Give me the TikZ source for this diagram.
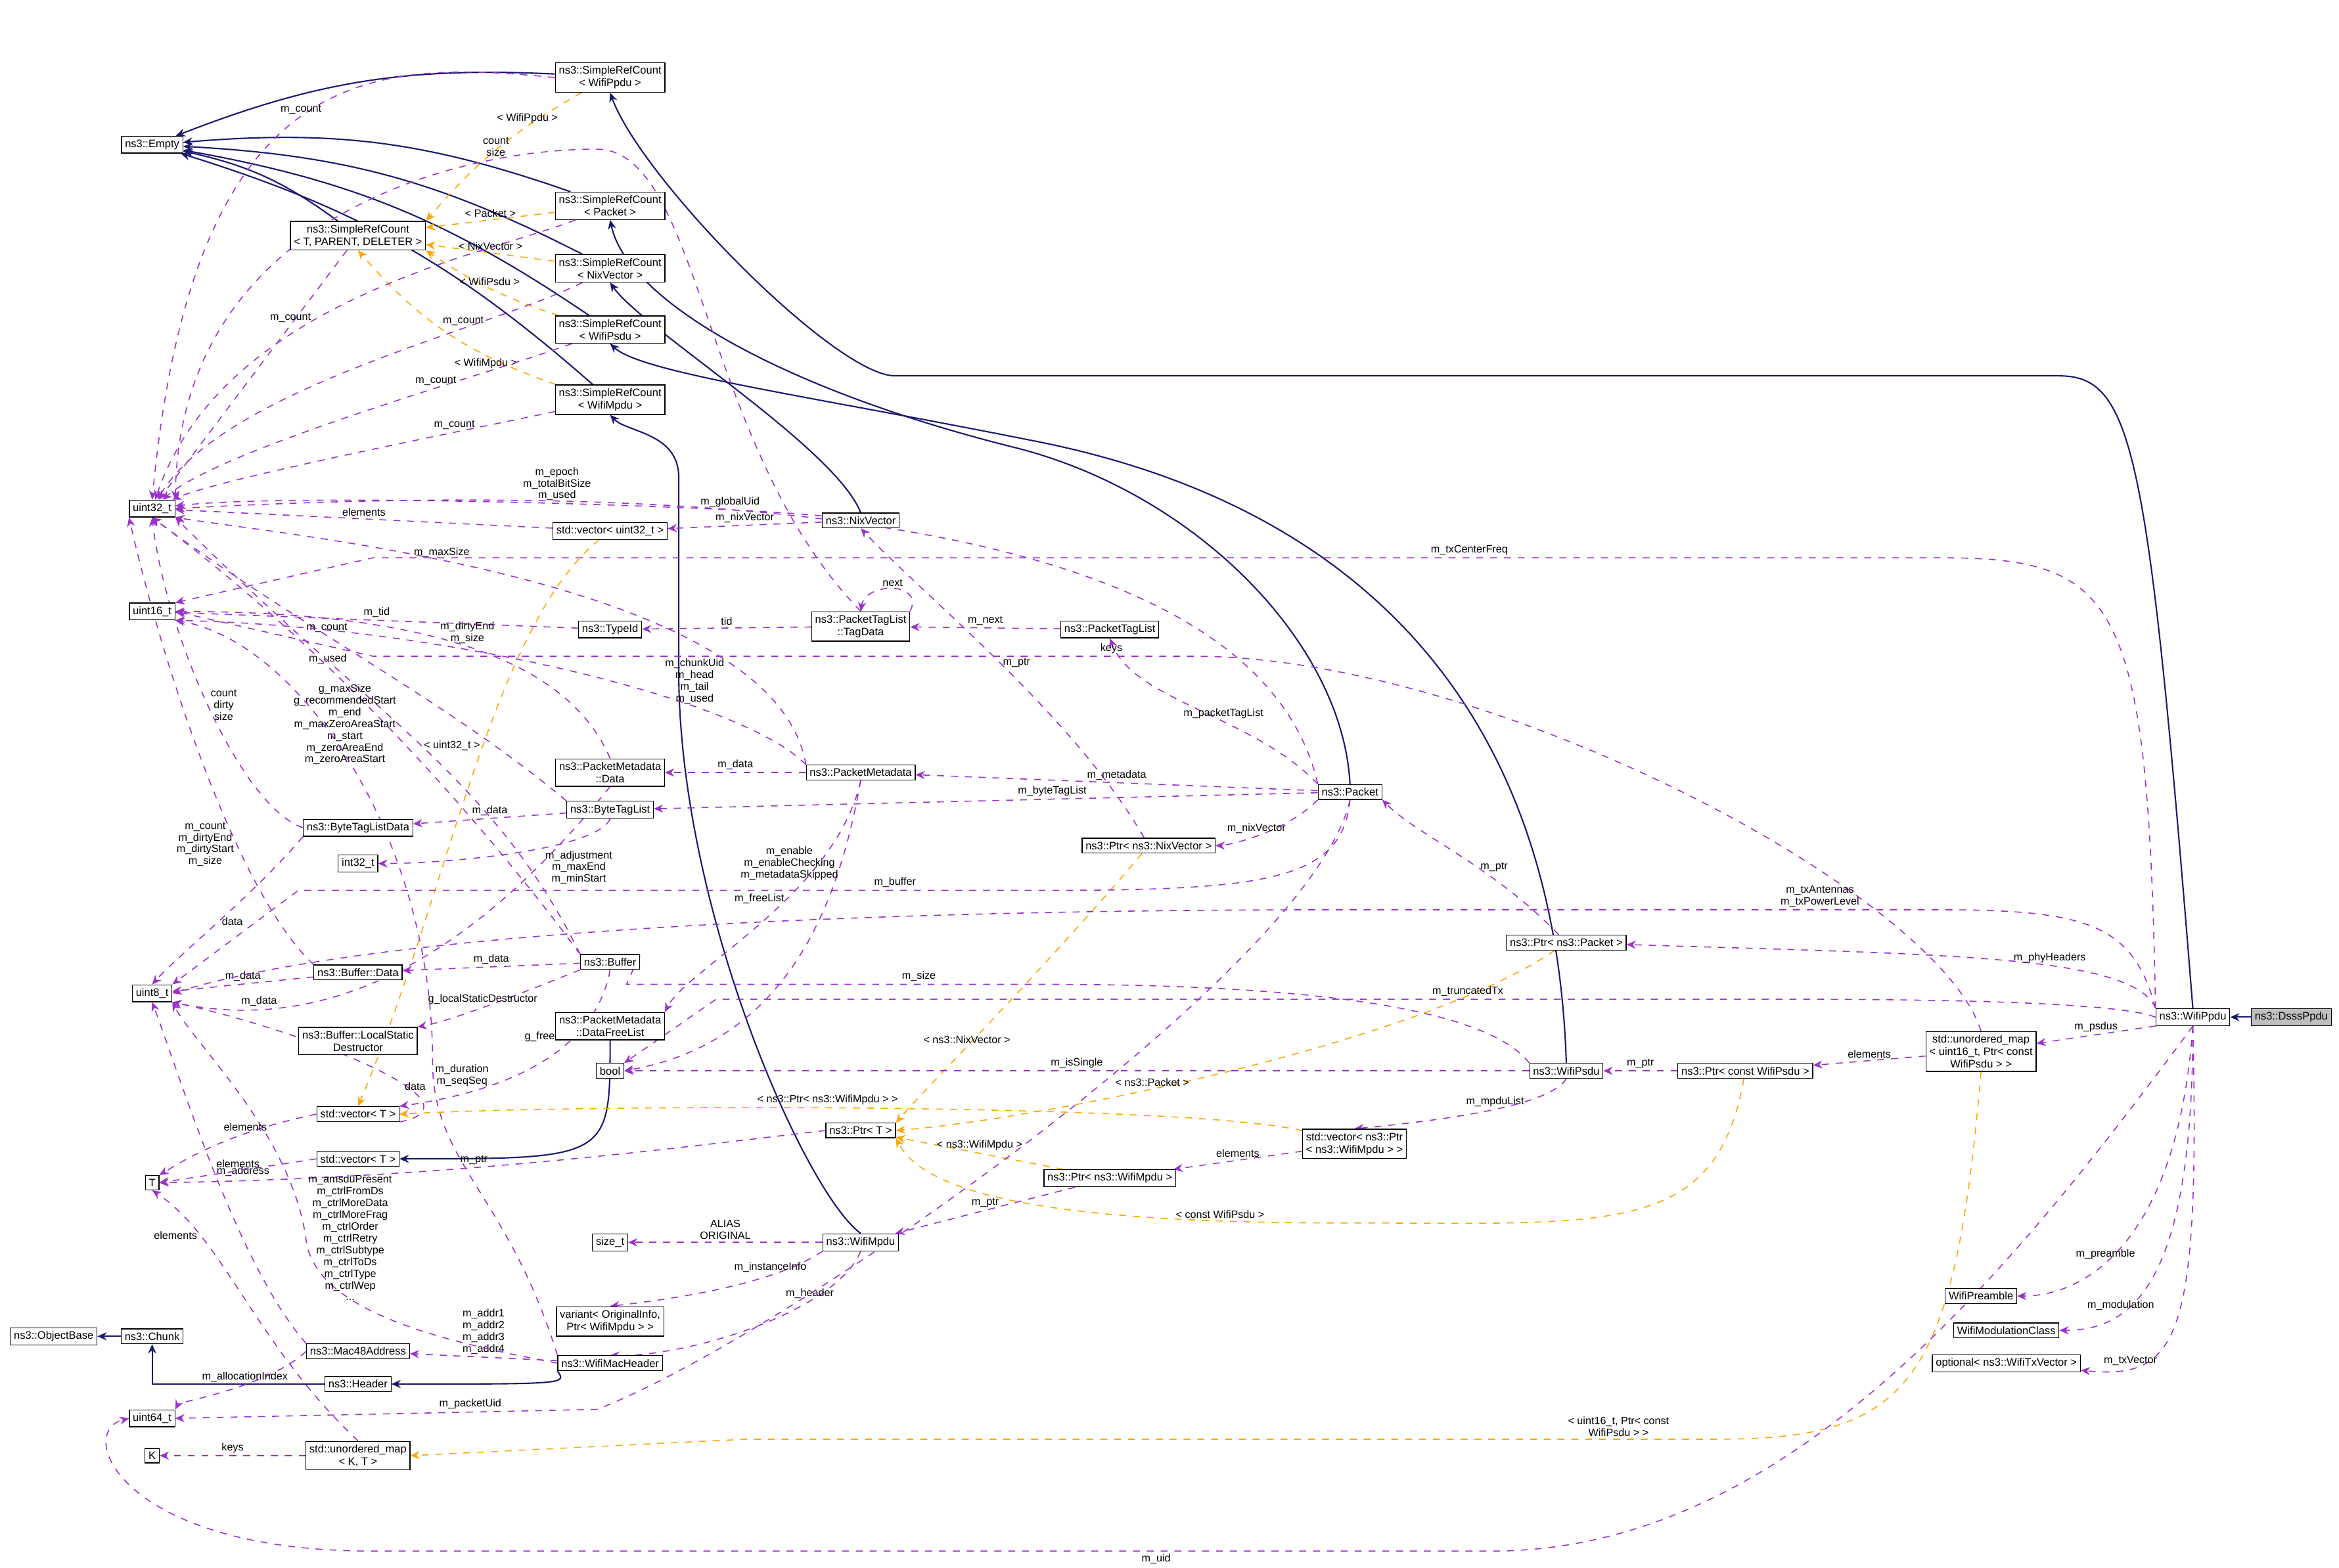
\documentclass[tikz,border=0pt]{standalone}
\usepackage{fontspec}
\setmainfont{Liberation Sans}
\usetikzlibrary{arrows.meta,backgrounds}
\definecolor{mem}{HTML}{9A32CD}
\definecolor{inh}{HTML}{191970}
\definecolor{tpl}{HTML}{FFA500}
\tikzset{
  cls/.style={draw, fill=white, line width=0.35pt, inner sep=1.5pt, align=center, font=\fontsize{4.7}{5.4}\selectfont},
  memb/.style={draw=mem, dashed, line width=0.45pt, -{Stealth[length=4pt,width=3.5pt]}},
  inhr/.style={draw=inh, line width=0.6pt, -{Stealth[length=4pt,width=3.5pt]}},
  tmpl/.style={draw=tpl, dashed, line width=0.45pt, -{Stealth[length=4pt,width=3.5pt]}},
  lbl/.style={font=\fontsize{4.6}{5.1}\selectfont, align=center, inner sep=1pt}
}
\begin{document}
\begin{tikzpicture}[x=0.0227cm,y=-0.0227cm]
\useasboundingbox (0,0) rectangle (1568,1051);
% classes, right side
\node[cls, fill=black!25] (dsss) at (1536,682) {ns3::DsssPpdu};
\node[cls] (ppdu) at (1470,682) {ns3::WifiPpdu};
\node[cls] (umap) at (1328,705) {std::unordered\_map\\< uint16\_t, Ptr< const\\WifiPsdu > >};
\node[cls] (pcpsdu) at (1170,718) {ns3::Ptr< const WifiPsdu >};
\node[cls] (psdu) at (1050,718) {ns3::WifiPsdu};
\node[cls] (ppkt) at (1050,632) {ns3::Ptr< ns3::Packet >};
\node[cls] (pre) at (1328,869) {WifiPreamble};
\node[cls] (modc) at (1345,892) {WifiModulationClass};
\node[cls] (txv) at (1345,914) {optional< ns3::WifiTxVector >};
% ref counting
\node[cls] (srcppdu) at (409,52) {ns3::SimpleRefCount\\< WifiPpdu >};
\node[cls] (empty) at (102,97) {ns3::Empty};
\node[cls] (srcpkt) at (409,138) {ns3::SimpleRefCount\\< Packet >};
\node[cls] (srct) at (240,158) {ns3::SimpleRefCount\\< T, PARENT, DELETER >};
\node[cls] (srcnix) at (409,180) {ns3::SimpleRefCount\\< NixVector >};
\node[cls] (srcpsdu) at (409,221) {ns3::SimpleRefCount\\< WifiPsdu >};
\node[cls] (srcmpdu) at (409,268) {ns3::SimpleRefCount\\< WifiMpdu >};
% basic types
\node[cls] (u32) at (102,341) {uint32\_t};
\node[cls] (u16) at (102,410) {uint16\_t};
\node[cls] (i32) at (240,579) {int32\_t};
\node[cls] (u8) at (102,666) {uint8\_t};
\node[cls] (bool) at (409,718) {bool};
\node[cls] (tt) at (102,793) {T};
\node[cls] (sizet) at (409,833) {size\_t};
\node[cls] (u64) at (102,951) {uint64\_t};
\node[cls] (kk) at (102,976) {K};
% packet side
\node[cls] (vu32) at (409,356) {std::vector< uint32\_t >};
\node[cls] (nix) at (577,349) {ns3::NixVector};
\node[cls] (tid) at (409,422) {ns3::TypeId};
\node[cls] (tagdata) at (577,420) {ns3::PacketTagList\\::TagData};
\node[cls] (taglist) at (744,422) {ns3::PacketTagList};
\node[cls] (mdata) at (409,518) {ns3::PacketMetadata\\::Data};
\node[cls] (meta) at (577,518) {ns3::PacketMetadata};
\node[cls] (pkt) at (905,531) {ns3::Packet};
\node[cls] (btld) at (240,555) {ns3::ByteTagListData};
\node[cls] (btl) at (409,543) {ns3::ByteTagList};
\node[cls] (pnix) at (770,567) {ns3::Ptr< ns3::NixVector >};
\node[cls] (bdata) at (240,652) {ns3::Buffer::Data};
\node[cls] (buf) at (409,645) {ns3::Buffer};
\node[cls] (lsd) at (240,698) {ns3::Buffer::LocalStatic\\Destructor};
\node[cls] (dfl) at (409,688) {ns3::PacketMetadata\\::DataFreeList};
\node[cls] (vt1) at (240,747) {std::vector< T >};
\node[cls] (vt2) at (240,777) {std::vector< T >};
\node[cls] (vpm) at (908,767) {std::vector< ns3::Ptr\\< ns3::WifiMpdu > >};
\node[cls] (pt) at (577,758) {ns3::Ptr< T >};
\node[cls] (pmpdu) at (744,790) {ns3::Ptr< ns3::WifiMpdu >};
\node[cls] (mpdu) at (577,833) {ns3::WifiMpdu};
\node[cls] (var) at (409,886) {variant< OriginalInfo,\\Ptr< WifiMpdu > >};
\node[cls] (objb) at (36,896) {ns3::ObjectBase};
\node[cls] (chunk) at (102,896) {ns3::Chunk};
\node[cls] (mac) at (240,906) {ns3::Mac48Address};
\node[cls] (hdr) at (240,928) {ns3::Header};
\node[cls] (machdr) at (409,914) {ns3::WifiMacHeader};
\node[cls] (umkt) at (240,976) {std::unordered\_map\\< K, T >};

\begin{scope}[on background layer]
% inheritance
\draw[inhr] (dsss) -- (ppdu);
\draw[inhr] (ppdu.north) .. controls (1440,300) and (1430,252) .. (1380,252) -- (600,252) .. controls (560,252) and (430,120) .. (srcppdu.south);
\foreach \c in {srcppdu,srcpkt,srct,srcnix,srcpsdu,srcmpdu}
  \draw[inhr] (\c) to[bend right=12] (empty);
\draw[inhr] (pkt.north) .. controls (900,430) and (800,330) .. (680,300) .. controls (520,260) and (420,200) .. (srcpkt.south);
\draw[inhr] (nix.north) .. controls (560,300) and (430,220) .. (srcnix.south);
\draw[inhr] (psdu.north) .. controls (1040,400) and (820,320) .. (690,295) .. controls (540,265) and (430,250) .. (srcpsdu.south);
\draw[inhr] (mpdu.north) .. controls (540,800) and (455,610) .. (455,450) -- (455,320) .. controls (455,290) and (420,290) .. (srcmpdu.south);
\draw[inhr] (chunk) -- (objb);
\draw[inhr] (hdr.west) -| (chunk.south);
\draw[inhr] (machdr.south west) .. controls (380,928) .. (hdr.east);
\draw[inhr] (dfl.south) .. controls (409,777) .. (vt2.east);

% templates
\draw[tmpl] (srcppdu) to[bend right=10] node[lbl, pos=0.3, above] {< WifiPpdu >} (srct.north east);
\draw[tmpl] (srcpkt) -- node[lbl, above] {< Packet >} (srct);
\draw[tmpl] (srcnix) -- node[lbl, above] {< NixVector >} (srct);
\draw[tmpl] (srcpsdu) to[bend left=8] node[lbl, above] {< WifiPsdu >} (srct.south east);
\draw[tmpl] (srcmpdu) to[bend left=15] node[lbl, pos=0.3, below] {< WifiMpdu >} (srct.south);
\draw[tmpl] (vu32) .. controls (330,420) and (300,600) .. node[lbl, pos=0.45, left] {< uint32\_t >} (vt1.north);
\draw[tmpl] (vpm) .. controls (800,740) and (400,740) .. node[lbl, pos=0.55, above] {< ns3::Ptr< ns3::WifiMpdu > >} (vt1.east);
\draw[tmpl] (pnix) .. controls (700,650) and (620,730) .. node[lbl, pos=0.6, above] {< ns3::NixVector >} (pt.north east);
\draw[tmpl] (ppkt) .. controls (950,700) and (700,750) .. node[lbl, pos=0.6, above] {< ns3::Packet >} (pt.east);
\draw[tmpl] (pmpdu) -- node[lbl, above] {< ns3::WifiMpdu >} (pt);
\draw[tmpl] (pcpsdu) .. controls (1150,830) and (1080,820) .. (900,820) .. controls (700,820) and (620,800) .. node[lbl, pos=0.15, above] {< const WifiPsdu >} (pt.south east);
\draw[tmpl] (umap.south) .. controls (1310,930) and (1280,965) .. (1150,965) -- node[lbl, pos=0.1, above] {< uint16\_t, Ptr< const\\WifiPsdu > >} (500,965) -- (umkt.east);

% members
\draw[memb] (srcppdu.west) .. controls (250,40) and (130,40) .. node[lbl, pos=0.5, above] {m\_count} (u32.north);
\draw[memb] (srct) -- node[lbl, pos=0.3, above] {m\_count} (u32);
\draw[memb] (srcpkt) .. controls (330,170) and (150,200) .. (u32);
\draw[memb] (srcnix) .. controls (330,220) and (150,260) .. node[lbl, pos=0.3, above] {m\_count} (u32);
\draw[memb] (srcpsdu) .. controls (330,250) and (150,300) .. node[lbl, pos=0.35, above] {m\_count} (u32);
\draw[memb] (srcmpdu) .. controls (330,285) and (150,320) .. node[lbl, pos=0.3, above] {m\_count} (u32);
\draw[memb] (tagdata.north) .. controls (470,300) and (470,100) .. (400,100) .. controls (300,100) and (120,150) .. node[lbl, pos=0.2, above] {count\\size} (u32.north east);
\draw[memb] (vu32) -- node[lbl, above] {elements} (u32);
\draw[memb] (nix) .. controls (500,340) and (200,330) .. node[lbl, pos=0.45, above] {m\_epoch\\m\_totalBitSize\\m\_used} (u32);
\draw[memb] (nix) -- node[lbl, above] {m\_nixVector} (vu32);
\draw[memb] (pkt.north west) .. controls (850,380) and (600,315) .. node[lbl, pos=0.7, above] {m\_globalUid} (u32.east);
\draw[memb] (meta.north west) .. controls (520,390) and (200,360) .. node[lbl, pos=0.6, above] {m\_maxSize} (u32.south east);
\draw[memb] (ppdu.north west) .. controls (1440,400) and (1420,374) .. (1300,374) -- node[lbl, pos=0.3, above] {m\_txCenterFreq} (250,374) -- (u16.north east);
\draw[memb] (tid) -- node[lbl, above] {m\_tid} (u16);
\draw[memb] (tagdata) -- node[lbl, above] {tid} (tid);
\draw[memb] (tagdata.north east) .. controls (620,390) and (580,390) .. node[lbl, above] {next} (tagdata.north);
\draw[memb] (taglist) -- node[lbl, above] {m\_next} (tagdata);
\draw[memb] (pnix) .. controls (720,480) and (620,400) .. node[lbl, pos=0.5, right] {m\_ptr} (nix.south);
\draw[memb] (pkt.north west) .. controls (840,480) and (760,470) .. node[lbl, pos=0.4, above] {m\_packetTagList} (taglist.south);
\draw[memb] (umap.north) .. controls (1300,600) and (1000,440) .. (800,440) -- node[lbl, pos=0.1, above] {keys} (250,440) -- (u16.east);
\draw[memb] (btl.north west) .. controls (300,470) and (200,420) .. node[lbl, pos=0.6, above] {m\_count} (u32.south);
\draw[memb] (buf.north west) .. controls (300,520) and (200,420) .. node[lbl, pos=0.6, above] {m\_used} (u32.south);
\draw[memb] (mdata.north) .. controls (380,440) and (280,410) .. node[lbl, pos=0.5, above] {m\_dirtyEnd\\m\_size} (u16.east);
\draw[memb] (meta.north west) .. controls (500,470) and (300,420) .. node[lbl, pos=0.3, above] {m\_chunkUid\\m\_head\\m\_tail\\m\_used} (u16.south east);
\draw[memb] (meta) -- node[lbl, above] {m\_data} (mdata);
\draw[memb] (pkt) -- node[lbl, above] {m\_metadata} (meta);
\draw[memb] (pkt) -- node[lbl, above, pos=0.4] {m\_byteTagList} (btl);
\draw[memb] (pkt.south west) .. controls (860,560) and (820,567) .. node[lbl, above] {m\_nixVector} (pnix);
\draw[memb] (pkt.south) .. controls (900,590) and (850,597) .. (700,597) -- node[lbl, pos=0.2, above] {m\_buffer} (200,597) -- (u8.north east);
\draw[memb] (buf.north west) .. controls (330,520) and (250,480) .. node[lbl, pos=0.55, left] {g\_maxSize\\g\_recommendedStart\\m\_end\\m\_maxZeroAreaStart\\m\_start\\m\_zeroAreaEnd\\m\_zeroAreaStart} (u32.south east);
\draw[memb] (btld.west) .. controls (160,540) and (110,420) .. node[lbl, pos=0.5, right] {count\\dirty\\size} (u32.south);
\draw[memb] (btld.south west) .. controls (170,600) and (120,640) .. node[lbl, pos=0.5, right] {data} (u8.north);
\draw[memb] (btl) -- node[lbl, above] {m\_data} (btld);
\draw[memb] (btl.south) .. controls (400,570) and (300,579) .. node[lbl, pos=0.4, below right] {m\_adjustment\\m\_maxEnd\\m\_minStart} (i32);
\draw[memb] (bdata.north west) .. controls (160,600) and (110,450) .. node[lbl, pos=0.35, left] {m\_count\\m\_dirtyEnd\\m\_dirtyStart\\m\_size} (u32.south west);
\draw[memb] (bdata) -- node[lbl, above] {m\_data} (u8);
\draw[memb] (buf) -- node[lbl, above] {m\_data} (bdata);
\draw[memb] (buf.south west) .. controls (340,670) and (300,685) .. node[lbl, pos=0.5, above] {g\_localStaticDestructor} (lsd.north east);
\draw[memb] (buf.south) .. controls (400,700) and (350,730) .. node[lbl, pos=0.35, left] {g\_freeList} (vt1.north east);
\draw[memb] (mdata.south) .. controls (350,600) and (250,700) .. node[lbl, pos=0.85, above] {m\_data} (u8.south east);
\draw[memb] (vt1.south east) .. controls (330,740) and (200,690) .. node[lbl, pos=0.3, above] {data} (u8.south east);
\draw[memb] (meta.south) .. controls (560,620) and (520,700) .. node[lbl, pos=0.2, left] {m\_enable\\m\_enableChecking\\m\_metadataSkipped} (bool.east);
\draw[memb] (meta.south) .. controls (560,600) and (460,650) .. node[lbl, pos=0.4, left] {m\_freeList} (dfl.north east);
\draw[memb] (psdu.north west) .. controls (1000,680) and (900,660) .. (700,660) -- node[lbl, pos=0.3, above] {m\_size} (420,660) -- (buf.north east);
\draw[memb] (ppdu.north west) .. controls (1430,620) and (1400,610) .. (1300,610) -- node[lbl, pos=0.2, above] {m\_txAntennas\\m\_txPowerLevel} (900,610) .. controls (800,610) and (300,610) .. (u8.east);
\draw[memb] (ppdu.north west) .. controls (1430,640) and (1300,640) .. node[lbl, pos=0.4, above] {m\_phyHeaders} (ppkt);
\draw[memb] (ppdu.west) .. controls (1420,672) and (1300,670) .. (1200,670) -- node[lbl, pos=0.3, above] {m\_truncatedTx} (480,670) -- (bool.north east);
\draw[memb] (ppdu.south west) -- node[lbl, above] {m\_psdus} (umap);
\draw[memb] (ppdu.south) .. controls (1350,850) and (1200,1040) .. (1000,1040) -- node[lbl, pos=0.3, below] {m\_uid} (250,1040) .. controls (80,1040) and (50,960) .. (u64.west);
\draw[memb] (ppdu.south) .. controls (1460,830) and (1400,869) .. node[lbl, pos=0.6, above] {m\_preamble} (pre);
\draw[memb] (ppdu.south) .. controls (1470,860) and (1430,892) .. node[lbl, pos=0.7, above] {m\_modulation} (modc);
\draw[memb] (ppdu.south) .. controls (1475,900) and (1460,925) .. node[lbl, pos=0.8, above] {m\_txVector} (txv);
\draw[memb] (ppkt) .. controls (1000,580) and (950,560) .. node[lbl, pos=0.4, right] {m\_ptr} (pkt.south east);
\draw[memb] (psdu) -- node[lbl, above] {m\_isSingle} (bool);
\draw[memb] (pcpsdu) -- node[lbl, above] {m\_ptr} (psdu);
\draw[memb] (umap) -- node[lbl, above] {elements} (pcpsdu);
\draw[memb] (psdu.south) .. controls (1040,740) and (980,750) .. node[lbl, pos=0.5, above] {m\_mpduList} (vpm.north);
\draw[memb] (vpm) -- node[lbl, above] {elements} (pmpdu);
\draw[memb] (pmpdu) -- node[lbl, above] {m\_ptr} (mpdu);
\draw[memb] (pt.west) .. controls (450,770) and (300,790) .. node[lbl, pos=0.6, above] {m\_ptr} (tt.east);
\draw[memb] (mpdu) -- node[lbl, above] {ALIAS\\ORIGINAL} (sizet);
\draw[memb] (mpdu.south west) .. controls (520,860) and (460,870) .. node[lbl, pos=0.3, above] {m\_instanceInfo} (var.north);
\draw[memb] (mpdu.south) .. controls (560,880) and (460,910) .. node[lbl, pos=0.3, above] {m\_header} (machdr.north);
\draw[memb] (machdr) -- node[lbl, above] {m\_addr1\\m\_addr2\\m\_addr3\\m\_addr4} (mac);
\draw[memb] (machdr.north west) .. controls (340,800) and (290,780) .. (290,712) node[lbl, below right] {m\_duration\\m\_seqSeq} .. controls (290,560) and (200,430) .. (u16.south east);
\draw[memb] (machdr.west) .. controls (300,900) and (210,880) .. (205,830) node[lbl, right] {m\_amsduPresent\\m\_ctrlFromDs\\m\_ctrlMoreData\\m\_ctrlMoreFrag\\m\_ctrlOrder\\m\_ctrlRetry\\m\_ctrlSubtype\\m\_ctrlToDs\\m\_ctrlType\\m\_ctrlWep\\...} .. controls (195,760) and (130,700) .. (u8.south east);
\draw[memb] (mac.north west) .. controls (160,850) and (120,720) .. node[lbl, pos=0.5, right] {m\_address} (u8.south);
\draw[memb] (mac.west) .. controls (180,930) and (120,940) .. node[lbl, pos=0.4, above] {m\_allocationIndex} (u64.north east);
\draw[memb] (pkt.south) .. controls (880,650) and (520,900) .. (400,945) -- node[lbl, pos=0.3, above] {m\_packetUid} (u64.east);
\draw[memb] (vt1.west) .. controls (150,760) and (120,780) .. node[lbl, pos=0.3, above] {elements} (tt.north east);
\draw[memb] (vt2.west) -- node[lbl, above] {elements} (tt.east);
\draw[memb] (umkt.north) .. controls (170,900) and (150,830) .. node[lbl, pos=0.75, left] {elements} (tt.south);
\draw[memb] (umkt) -- node[lbl, above] {keys} (kk);
\end{scope}
\end{tikzpicture}
\end{document}
